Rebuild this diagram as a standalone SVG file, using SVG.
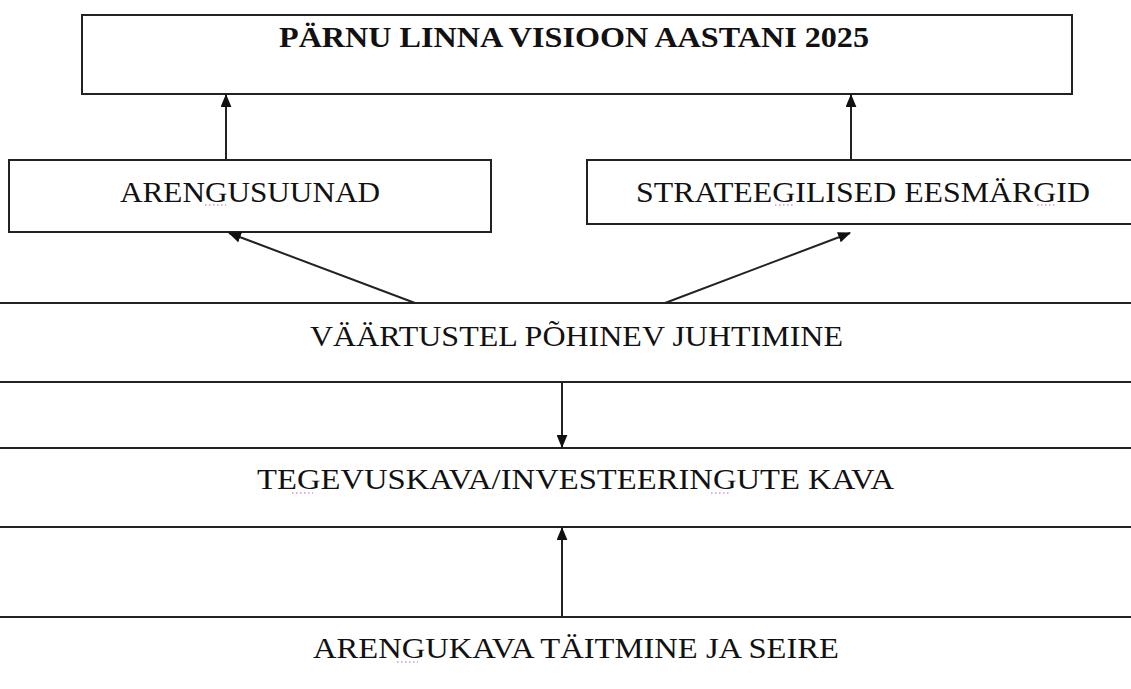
<svg xmlns="http://www.w3.org/2000/svg" width="1131" height="689" viewBox="0 0 1131 689">
<style>
.box{fill:#fff;stroke:#222;stroke-width:2}
.t{font-family:"Liberation Serif","Times New Roman",serif;font-size:30px;fill:#111}
.b{font-weight:bold}
.c{stroke:#222;stroke-width:2;fill:none;marker-end:url(#ah)}
.sp{stroke:#c060c0;stroke-width:1.2;stroke-dasharray:1.5 2.5;fill:none}
</style>
<defs>
<marker id="ah" viewBox="0 0 12 10" refX="11" refY="5" markerWidth="6.5" markerHeight="5.5" orient="auto" markerUnits="strokeWidth">
<path d="M0,0 L12,5 L0,10 z" fill="#111"/>
</marker>
</defs>
<rect width="1131" height="689" fill="#fff"/>
<g id="visioon">
<rect class="box" x="82" y="15" width="990" height="79"/>
<text class="t b" x="279" y="47" textLength="590" lengthAdjust="spacingAndGlyphs" font-size="27">PÄRNU LINNA VISIOON AASTANI 2025</text>
</g>
<g id="arengusuunad">
<rect class="box" x="9" y="160" width="482" height="72"/>
<text class="t" x="120" y="202" textLength="260" lengthAdjust="spacingAndGlyphs">ARENGUSUUNAD</text>
<path class="sp" d="M205,205 H226"/>
</g>
<g id="eesmargid">
<rect class="box" x="587" y="160" width="560" height="64"/>
<text class="t" x="636" y="202" textLength="454" lengthAdjust="spacingAndGlyphs">STRATEEGILISED EESMÄRGID</text>
<path class="sp" d="M775,205 H794 M1037,205 H1056"/>
</g>
<g id="juhtimine">
<rect class="box" x="-5" y="303" width="1141" height="79"/>
<text class="t" x="310" y="346" textLength="533" lengthAdjust="spacingAndGlyphs" font-size="33">VÄÄRTUSTEL PÕHINEV JUHTIMINE</text>
</g>
<g id="tegevuskava">
<rect class="box" x="-5" y="448" width="1141" height="79"/>
<text class="t" x="257" y="489" textLength="637" lengthAdjust="spacingAndGlyphs" font-size="32">TEGEVUSKAVA/INVESTEERINGUTE KAVA</text>
<path class="sp" d="M292,493 H313 M711,493 H730"/>
</g>
<g id="seire">
<rect class="box" x="-5" y="617" width="1141" height="90"/>
<text class="t" x="313" y="658" textLength="526" lengthAdjust="spacingAndGlyphs" font-size="32">ARENGUKAVA TÄITMINE JA SEIRE</text>
<path class="sp" d="M397,662 H418"/>
</g>
<g id="connectors">
<path class="c" d="M226,160 V95"/>
<path class="c" d="M851,160 V95"/>
<path class="c" d="M415,303 L229,233"/>
<path class="c" d="M665,303 L850,233"/>
<path class="c" d="M562,382 V447"/>
<path class="c" d="M562,617 V528"/>
</g>
</svg>
